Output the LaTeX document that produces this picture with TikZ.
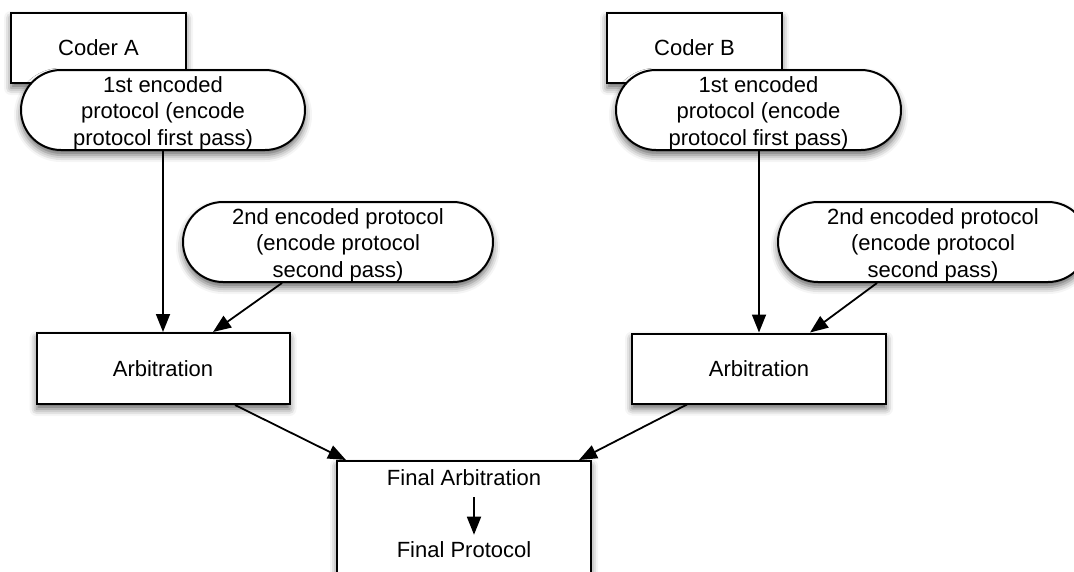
\documentclass[tikz,border=0pt]{standalone}
\usepackage{fontspec}
\setmainfont{Liberation Sans}
\usetikzlibrary{arrows.meta,shadows.blur}

\tikzset{
  softshadow/.style={blur shadow={shadow xshift=0pt, shadow yshift=-5pt,
                                  shadow blur radius=7pt, shadow opacity=60}},
  boxnode/.style={draw, line width=2pt, fill=white, rectangle,
                  font=\fontsize{22}{26.5}\selectfont, align=center,
                  inner sep=0pt, softshadow},
  pillnode/.style={draw, line width=2pt, fill=white, rectangle,
                   rounded corners=40pt, minimum height=80pt,
                   font=\fontsize{22}{26.5}\selectfont, align=center,
                   inner sep=0pt, softshadow},
  label/.style={font=\fontsize{22}{26.5}\selectfont, inner sep=0pt},
  arr/.style={-{Triangle[length=18pt,width=14pt]}, line width=1.8pt},
}
% three centred lines, set a little below the middle of their pill
\newcommand{\pilltext}[3]{\raisebox{-3.5pt}[\height][\depth]{\begin{tabular}{@{}c@{}}#1\\#2\\#3\end{tabular}}}

\begin{document}
\begin{tikzpicture}[x=1pt,y=-1pt]
  \clip (0,0) rectangle (1074,571);
  \useasboundingbox (0,0) rectangle (1074,571);

  % left branch
  \node[boxnode, minimum width=175pt, minimum height=70pt] (coderA) at (98.5,48) {Coder A};
  \node[pillnode, minimum width=284pt] (passA1) at (163,110)
    {\pilltext{1st encoded}{protocol (encode}{protocol first pass)}};
  \node[pillnode, minimum width=310pt] (passA2) at (338,242)
    {\pilltext{2nd encoded protocol}{(encode protocol}{second pass)}};
  \node[boxnode, minimum width=253pt, minimum height=71pt] (arbA) at (163,368.5) {Arbitration};

  % right branch
  \node[boxnode, minimum width=175pt, minimum height=70pt] (coderB) at (694.5,48) {Coder B};
  \node[pillnode, minimum width=285pt] (passB1) at (758.5,110)
    {\pilltext{1st encoded}{protocol (encode}{protocol first pass)}};
  \node[pillnode, minimum width=310pt] (passB2) at (933,242)
    {\pilltext{2nd encoded protocol}{(encode protocol}{second pass)}};
  \node[boxnode, minimum width=254pt, minimum height=70pt] (arbB) at (759,368.5) {Arbitration};

  % final stage
  \node[boxnode, minimum width=254pt, minimum height=130pt] (final) at (464,526) {};
  \node[label] (finArb) at (464,478) {Final Arbitration};
  \node[label] (finProt) at (464,550) {Final Protocol};

  % connectors
  \draw[arr] (passA1) -- (arbA);
  \draw[arr] ([xshift=-56pt]passA2.south) -- ([xshift=50pt]arbA.north);
  \draw[arr] ([xshift=72pt]arbA.south) -- ([xshift=10pt]final.north west);

  \draw[arr] (passB1.south -| arbB.north) -- (arbB.north);
  \draw[arr] ([xshift=-56pt]passB2.south) -- ([xshift=51pt]arbB.north);
  \draw[arr] ([xshift=-72pt]arbB.south) -- ([xshift=-13pt]final.north east);

  \draw[arr] ([xshift=10pt,yshift=-11pt]finArb.south) -- ([xshift=10pt,yshift=7pt]finProt.north);
\end{tikzpicture}
\end{document}
